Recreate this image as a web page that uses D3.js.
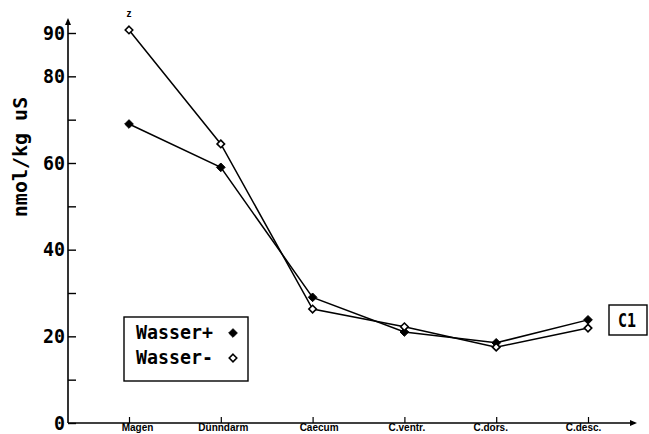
<!DOCTYPE html>
<html>
<head>
<meta charset="utf-8">
<script src="https://cdn.jsdelivr.net/npm/d3@7"></script>
<style>
  html, body { margin: 0; padding: 0; background: #fff; }
  svg { display: block; }
</style>
</head>
<body>
<svg id="chart" width="649" height="434"></svg>
<script>
// Gut sections along the x axis
const sections = ["Magen", "Dünndarm", "Caecum", "C.ventr.", "C.dors.", "C.desc."];
// Concentration (nmol/kg uS) with water
const wasserPlus = [69, 59, 29, 21, 18.5, 23.8];
// Concentration (nmol/kg uS) without water
const wasserMinus = [90.7, 64.4, 26.3, 22.2, 17.5, 21.9];
// Y axis ticks and which of them carry a label
const yTicks = [0, 10, 20, 30, 40, 50, 60, 70, 80, 90];
const yLabelled = [0, 20, 40, 60, 80, 90];
const seriesNames = ["Wasser+", "Wasser-"];
const panelLabel = "C1";
const yTitle = "nmol/kg uS";

const svg = d3.select("#chart");
const mono = "'DejaVu Sans Mono', monospace";

const x = d3.scalePoint().domain(sections).range([129, 588]);
const y = d3.scaleLinear().domain([0, 90]).range([423, 33]);
const x0 = 68, xEnd = 637, yTop = 18;

// Axis lines with arrow heads
svg.append("line").attr("x1", x0).attr("x2", x0).attr("y1", y(0)).attr("y2", yTop + 2)
  .attr("stroke", "#000").attr("stroke-width", 1.6);
svg.append("path").attr("d", `M${x0},${yTop} l-3,7 l6,0 Z`).attr("fill", "#000");
svg.append("line").attr("x1", x0).attr("x2", xEnd - 2).attr("y1", y(0)).attr("y2", y(0))
  .attr("stroke", "#000").attr("stroke-width", 1.6);
svg.append("path").attr("d", `M${xEnd},${y(0)} l-7,-3 l0,6 Z`).attr("fill", "#000");

// Y axis: ticks point inward, condensed labels on the left
const yAxis = d3.axisLeft(y)
  .tickValues(yTicks)
  .tickSizeInner(-8).tickSizeOuter(0).tickPadding(3)
  .tickFormat(d => yLabelled.includes(d) ? String(d) : "");
const gy = svg.append("g").attr("transform", `translate(${x0},0)`).call(yAxis);
gy.select(".domain").remove();
gy.selectAll(".tick line").attr("stroke", "#000").attr("stroke-width", 1.4);
gy.selectAll(".tick text")
  .attr("font-family", mono).attr("font-weight", "bold").attr("font-size", 20)
  .attr("fill", "#000").attr("dy", "0.3em")
  .each(function(d) {
    const s = yLabelled.includes(d) ? String(d) : "";
    if (s) d3.select(this).attr("textLength", s.length * 11).attr("lengthAdjust", "spacingAndGlyphs");
  });

// X axis: ticks point up, category labels below
const xAxis = d3.axisBottom(x).tickSizeInner(-6).tickSizeOuter(0).tickPadding(0);
const gx = svg.append("g").attr("transform", `translate(0,${y(0)})`).call(xAxis);
gx.select(".domain").remove();
gx.selectAll(".tick line").attr("stroke", "#000").attr("stroke-width", 1.2);
gx.selectAll(".tick text")
  .attr("font-family", "'Liberation Sans', Arial, sans-serif")
  .attr("font-weight", "bold").attr("font-size", 10).attr("fill", "#000")
  .attr("y", 8).attr("dy", 0)
  .attr("dx", (d, i) => [8, 2, 6, 2, -6, -5][i]);

// Y axis title
svg.append("text")
  .attr("transform", "translate(27,157) rotate(-90)")
  .attr("text-anchor", "middle")
  .attr("font-family", mono).attr("font-weight", "bold").attr("font-size", 20)
  .text(yTitle);

// Series lines
const line = d3.line().x((d, i) => x(sections[i])).y(d => y(d));
[wasserPlus, wasserMinus].forEach(vals => {
  svg.append("path").datum(vals).attr("d", line)
    .attr("fill", "none").attr("stroke", "#000").attr("stroke-width", 1.5);
});

// Diamond markers
const diamond = d3.symbol().type(d3.symbolDiamond2).size(48);
svg.append("g").selectAll("path").data(wasserPlus).join("path")
  .attr("d", diamond)
  .attr("transform", (d, i) => `translate(${x(sections[i])},${y(d)})`)
  .attr("fill", "#000").attr("stroke", "#000").attr("stroke-width", 1);
svg.append("g").selectAll("path").data(wasserMinus).join("path")
  .attr("d", d3.symbol().type(d3.symbolDiamond2).size(36))
  .attr("transform", (d, i) => `translate(${x(sections[i])},${y(d)})`)
  .attr("fill", "#fff").attr("stroke", "#000").attr("stroke-width", 1.6);

// Significance mark above the first open point
svg.append("text")
  .attr("x", x(sections[0])).attr("y", y(wasserMinus[0]) - 13)
  .attr("text-anchor", "middle")
  .attr("font-family", "'Liberation Sans', Arial, sans-serif")
  .attr("font-weight", "bold").attr("font-size", 10)
  .text("z");

// Legend
const lg = svg.append("g");
lg.append("rect").attr("x", 124).attr("y", 317).attr("width", 124).attr("height", 64)
  .attr("fill", "#fff").attr("stroke", "#000").attr("stroke-width", 1.4);
seriesNames.forEach((name, i) => {
  const yy = 339 + i * 25;
  lg.append("text").attr("x", 136).attr("y", yy)
    .attr("font-family", mono).attr("font-weight", "bold").attr("font-size", 20)
    .attr("textLength", 77).attr("lengthAdjust", "spacingAndGlyphs")
    .text(name);
  lg.append("path")
    .attr("d", d3.symbol().type(d3.symbolDiamond2).size(i === 0 ? 48 : 36))
    .attr("transform", `translate(233,${yy - 6})`)
    .attr("fill", i === 0 ? "#000" : "#fff")
    .attr("stroke", "#000").attr("stroke-width", i === 0 ? 1 : 1.6);
});

// Panel label box
svg.append("rect").attr("x", 609).attr("y", 305).attr("width", 38).attr("height", 30)
  .attr("fill", "#fff").attr("stroke", "#000").attr("stroke-width", 1.4);
svg.append("text").attr("x", 618).attr("y", 327)
  .attr("font-family", mono).attr("font-weight", "bold").attr("font-size", 20)
  .attr("textLength", 18).attr("lengthAdjust", "spacingAndGlyphs")
  .text(panelLabel);
</script>
</body>
</html>
